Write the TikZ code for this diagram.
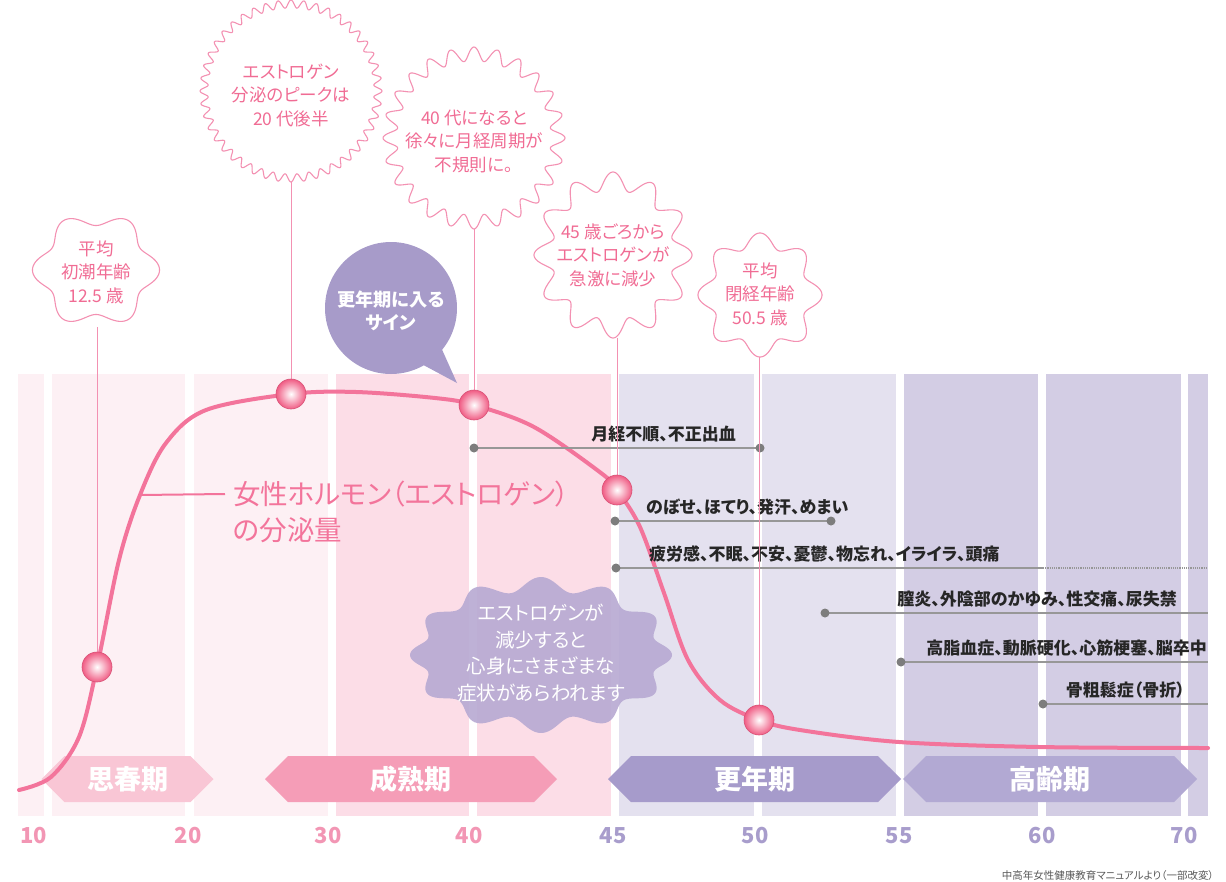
\documentclass[tikz,border=0pt]{standalone}
\usepackage{fontspec}
\setmainfont{Noto Sans CJK JP}[RawFeature=+palt]
\usepackage{xcolor}
\usepackage{tikz}
\usetikzlibrary{calc,shapes.symbols}

\definecolor{curvepink}{RGB}{243,116,155}
\definecolor{leadpink}{RGB}{243,145,178}
\definecolor{textpink}{RGB}{240,108,148}
\definecolor{markpink}{RGB}{240,92,132}
\definecolor{bandA}{RGB}{253,240,244}
\definecolor{bandB}{RGB}{252,221,231}
\definecolor{bandC}{RGB}{228,225,239}
\definecolor{bandD}{RGB}{211,205,228}
\definecolor{phaseA}{RGB}{249,198,213}
\definecolor{phaseB}{RGB}{245,157,183}
\definecolor{phaseC}{RGB}{166,155,203}
\definecolor{phaseD}{RGB}{178,169,211}
\definecolor{lav}{RGB}{167,155,201}
\definecolor{cloudlav}{RGB}{184,170,211}
\definecolor{symgray}{RGB}{125,125,125}
\definecolor{axispink}{RGB}{242,150,180}
\definecolor{axislav}{RGB}{168,157,204}

\tikzset{
  balloon/.style={draw=leadpink, line width=1.1pt},
  baltext/.style={text=textpink, align=center, inner sep=0pt, font=\fontsize{17.5}{23.5}\selectfont},
  bubtext/.style={text=white, align=center, inner sep=0pt, font=\fontsize{18.2}{23}\selectfont\bfseries},
  cloudtext/.style={text=white, align=center, inner sep=0pt, font=\fontsize{19.5}{26.7}\selectfont},
  hormtext/.style={text=curvepink, inner sep=0pt, font=\fontsize{27.5}{30}\selectfont},
  phase/.style={signal, signal to=east and west, minimum height=46pt, inner sep=0pt, text=white, font=\fontsize{27}{27}\selectfont\bfseries},
  symtext/.style={text=black!85, inner sep=0pt, font=\fontsize{17}{18}\selectfont\bfseries},
  symline/.style={draw=symgray!80, line width=1.2pt},
  symdot/.style={fill=symgray},
  leader/.style={draw=leadpink, line width=1pt},
  axistext/.style={font=\fontsize{22}{22}\selectfont\bfseries},
}

\begin{document}
\begin{tikzpicture}[x=1pt,y=-1pt]
        \useasboundingbox (0,0) rectangle (1226,881);

        % age bands
        \foreach \xa/\xb/\c in {18/44/bandA, 52/185/bandA, 194/328/bandA, 336/469/bandB, 477/611/bandB,
                                619/754/bandC, 762/896/bandC, 904/1038/bandD, 1046/1181/bandD, 1188/1208/bandD} {
            \fill[\c] (\xa,374) rectangle (\xb,816);
        }

        \node[phase, fill=phaseA, minimum width=172pt] (puberty) at (127.5,779) {思春期};
        \node[phase, fill=phaseB, minimum width=292pt] (mature) at (411,779) {成熟期};
        \node[phase, fill=phaseC, minimum width=293pt] (climac) at (754.5,779) {更年期};
        \node[phase, fill=phaseD, minimum width=294pt] (senior) at (1050,779) {高齢期};

        % cloud
        \fill[cloudlav, fill opacity=0.92] plot[variable=\t, domain=0:360, samples=300]
            ({541+(124+7*cos(12*\t))*cos(\t)}, {655+(71+7*cos(12*\t))*sin(\t)}) -- cycle;
        \node[cloudtext] (cloudmsg) at (541,653) {エストロゲンが\\減少すると\\心身にさまざまな\\症状があらわれます};

        % speech bubble
        \fill[lav] (391,308) circle (66);
        \fill[lav] (414,360) -- (457,383) -- (440,345) -- cycle;
        \node[bubtext] (sign) at (391,311) {更年期に入る\\サイン};

        % balloons
        \foreach \cx/\cy/\rx/\ry/\a/\n in {96/270/57/51/6.5/6, 291/91/87/87/4/44, 474/138/84/84/7/24,
                                          613/255/70/74/9/12, 760/295/55/55/7/8} {
            \draw[balloon] plot[variable=\t, domain=0:360, samples=600]
                ({\cx+(\rx+\a*cos(\n*\t))*cos(\t)}, {\cy+(\ry+\a*cos(\n*\t))*sin(\t)}) -- cycle;
        }
        \node[baltext] (menarche) at (96,272) {平均\\初潮年齢\\12.5 歳};
        \node[baltext] (peak) at (291,95) {エストロゲン\\分泌のピークは\\20 代後半};
        \node[baltext] (forties) at (474,141) {40 代になると\\徐々に月経周期が\\不規則に。};
        \node[baltext] (decline) at (613,255) {45 歳ごろから\\エストロゲンが\\急激に減少};
        \node[baltext] (menopause) at (760,294) {平均\\閉経年齢\\50.5 歳};

        \coordinate (b1) at (97,327);
        \coordinate (b2) at (291,182);
        \coordinate (b3) at (474,229);
        \coordinate (b4) at (617,338);
        \coordinate (b5) at (759,357);

        \coordinate (m1) at (97,667);
        \coordinate (m2) at (291,394);
        \coordinate (m3) at (474,405);
        \coordinate (m4) at (617,490);
        \coordinate (m5) at (759,720);
        \coordinate (lead) at (140,495);

        % estrogen curve
        \draw[curvepink, line width=4pt, line cap=round] plot[smooth, tension=0.55] coordinates {
            (19,790) (51,777) (79,737) (m1) (119,560) (lead) (166,443) (206,410) (m2) (356,392)
            (435,398) (m3) (534,427) (601,473) (m4) (640,527) (664,593) (688,660) (720,700)
            (m5) (800,730) (899,742) (1039,747) (1208,748)};

        \node[hormtext, anchor=west] (hormone) at (233,494) {女性ホルモン（エストロゲン）};
        \node[hormtext, anchor=west] (hormone2) at (233,530) {の分泌量};
        \draw[curvepink, line width=2pt] (lead) -- ($(hormone.west)+(-8,0)$);

        % symptoms
        \coordinate (s1a) at (474,448);
        \coordinate (s1b) at (760,448);
        \coordinate (s2a) at (615,521);
        \coordinate (s2b) at (831,521);
        \coordinate (s3a) at (616,568);
        \coordinate (s3b) at (1043,568);
        \coordinate (s3c) at (1208,568);
        \coordinate (s4a) at (825,613);
        \coordinate (s4b) at (1208,613);
        \coordinate (s5a) at (901,662);
        \coordinate (s5b) at (1208,662);
        \coordinate (s6a) at (1043,704);
        \coordinate (s6b) at (1208,704);

        \draw[symline] (s1a) -- (s1b);
        \draw[symline] (s2a) -- (s2b);
        \draw[symline] (s3a) -- (s3b);
        \draw[symline, densely dotted] (s3b) -- (s3c);
        \draw[symline] (s4a) -- (s4b);
        \draw[symline] (s5a) -- (s5b);
        \draw[symline] (s6a) -- (s6b);
        \foreach \s in {s1a,s1b,s2a,s2b,s3a,s4a,s5a,s6a} {
            \fill[symdot] (\s) circle (4.5);
        }

        \node[symtext, anchor=east] (irreg) at (736,434) {月経不順、不正出血};
        \node[symtext, anchor=west] (hot) at (646,507) {のぼせ、ほてり、発汗、めまい};
        \node[symtext, anchor=west] (fatigue) at (649,554) {疲労感、不眠、不安、憂鬱、物忘れ、イライラ、頭痛};
        \node[symtext, anchor=east] (vagin) at (1177,599) {膣炎、外陰部のかゆみ、性交痛、尿失禁};
        \node[symtext, anchor=east] (lipid) at (1207,648) {高脂血症、動脈硬化、心筋梗塞、脳卒中};
        \node[symtext, anchor=east] (bone) at (1185,690) {骨粗鬆症（骨折）};

        % leaders and markers
        \foreach \v in {1,2,3,4,5} {
            \draw[leader] (b\v) -- (m\v);
        }
        \foreach \v in {1,2,3,4,5} {
            \shadedraw[inner color=white, outer color=markpink, draw=markpink!90!black, line width=0.6pt] (m\v) circle (15);
        }

        % axis
        \foreach \lab/\xx in {10/34, 20/188, 30/328, 40/469} {
            \node[axistext, text=axispink] (ax\lab) at (\xx,836) {\lab};
        }
        \foreach \lab/\xx in {45/613, 50/755, 55/899, 60/1042, 70/1184} {
            \node[axistext, text=axislav] (ax\lab) at (\xx,836) {\lab};
        }

        \node[anchor=east, inner sep=0pt, text=black!65, font=\fontsize{10.5}{12}\selectfont] (source) at (1214,875) {中高年女性健康教育マニュアルより（一部改変）};
    \end{tikzpicture}
\end{document}
